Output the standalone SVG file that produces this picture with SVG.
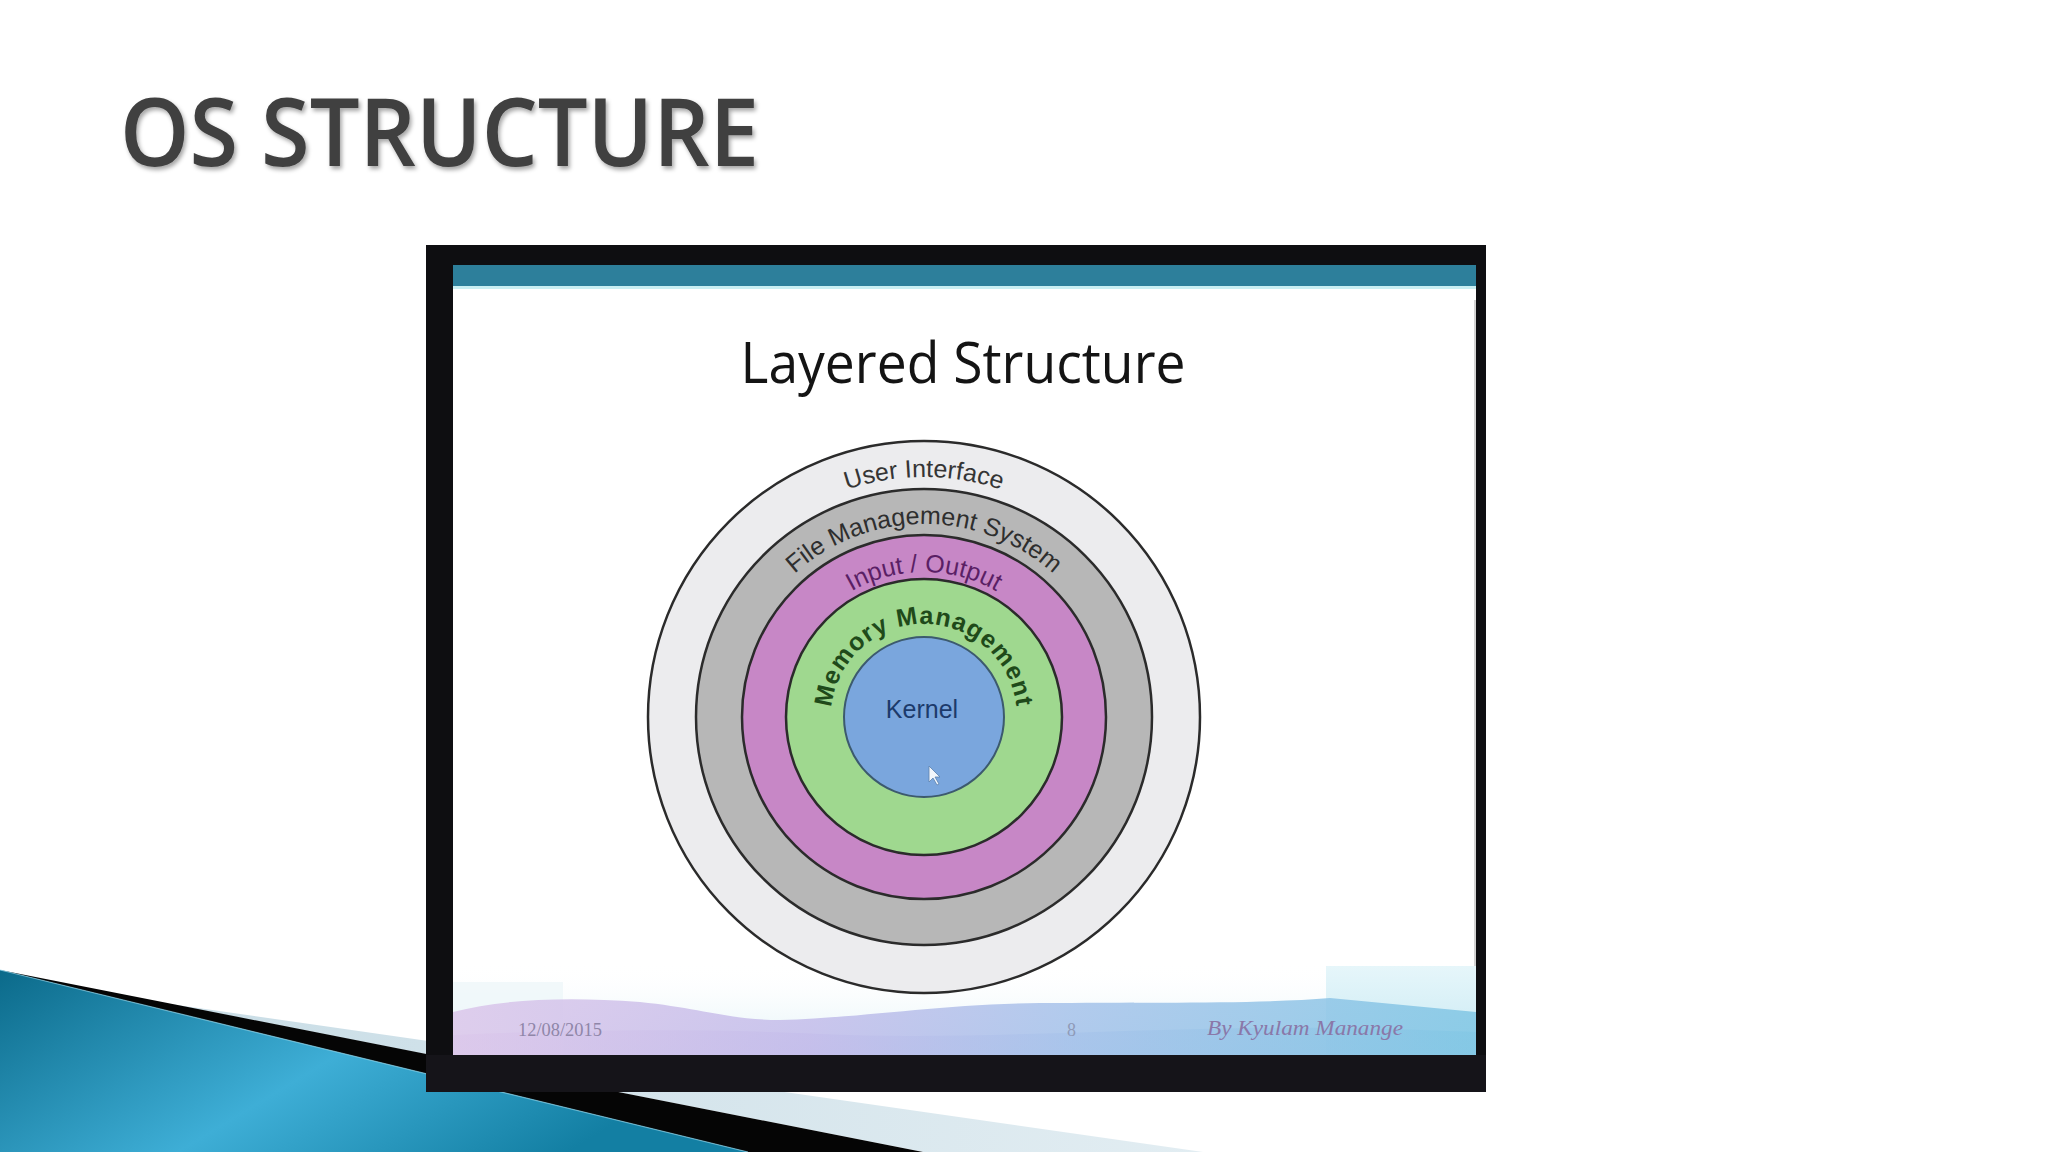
<svg xmlns="http://www.w3.org/2000/svg" width="2048" height="1152" viewBox="0 0 2048 1152">
  <defs>
    <style>
      .ring { stroke: #2b2b2b; stroke-width: 2.5; }
      .lbl { font-family: "Liberation Sans", Arial, sans-serif; font-size: 25px; }
      .calibri { font-family: "Open Sans", "Noto Sans", sans-serif; }
    </style>
    <filter id="shadow" x="-5%" y="-20%" width="110%" height="150%">
      <feDropShadow dx="2" dy="3" stdDeviation="2" flood-color="#000" flood-opacity="0.35"/>
    </filter>
    <linearGradient id="tealGrad" x1="0" y1="0" x2="1" y2="0.4">
      <stop offset="0" stop-color="#0b6a8a"/>
      <stop offset="0.55" stop-color="#3eaed6"/>
      <stop offset="1" stop-color="#137fa3"/>
    </linearGradient>
    <linearGradient id="lightGrad" x1="0" y1="0" x2="1" y2="0">
      <stop offset="0" stop-color="#c9dde6"/>
      <stop offset="1" stop-color="#e2edf2"/>
    </linearGradient>
    <linearGradient id="waveGrad" x1="0" y1="0" x2="1" y2="0">
      <stop offset="0" stop-color="#dbc6ea"/>
      <stop offset="0.35" stop-color="#c3bcea"/>
      <stop offset="0.6" stop-color="#a6c2ea"/>
      <stop offset="1" stop-color="#80c6e4"/>
    </linearGradient>
    <linearGradient id="waveTop" x1="0" y1="0" x2="0" y2="1">
      <stop offset="0" stop-color="#ffffff" stop-opacity="0"/>
      <stop offset="1" stop-color="#d9eef5" stop-opacity="0.9"/>
    </linearGradient>
    <linearGradient id="cyanPanel" x1="0" y1="0" x2="0" y2="1">
      <stop offset="0" stop-color="#e6f6fa"/>
      <stop offset="1" stop-color="#c8e9f3"/>
    </linearGradient>
    <path id="pUI" d="M684,717 A240,240 0 0 1 1164,717"/>
    <path id="pFMS" d="M731,717 A193,193 0 0 1 1117,717"/>
    <path id="pIO" d="M779,717 A145,145 0 0 1 1069,717"/>
    <path id="pMM" d="M831,717 A93,93 0 0 1 1017,717"/>
  </defs>

  <rect width="2048" height="1152" fill="#ffffff"/>

  <g id="title">
    <text x="120" y="166" class="calibri" font-size="94" font-weight="600" fill="#404040" textLength="639" lengthAdjust="spacingAndGlyphs" filter="url(#shadow)">OS STRUCTURE</text>
  </g>

  <g id="swoosh">
    <polygon points="0,970 748,1152 0,1152" fill="url(#tealGrad)"/>
    <polygon points="170,1004 1203,1152 923,1152" fill="url(#lightGrad)"/>
    <polygon points="-20,966 923,1152 748,1152 0,970" fill="#050505"/>
    <line x1="0" y1="970" x2="748" y2="1152" stroke="#7fd0ea" stroke-width="1.2" opacity="0.7"/>
  </g>

  <g id="slide-frame">
    <rect x="426" y="245" width="1060" height="847" fill="#0e0e11"/>
    <rect x="426" y="1055" width="1060" height="37" fill="#151419"/>
    <rect x="453" y="265" width="1023" height="790" fill="#ffffff"/>
    <rect x="453" y="265" width="1023" height="21" fill="#2d7f9b"/>
    <rect x="453" y="286" width="1023" height="3" fill="#c8eef2"/>
    <line x1="1475" y1="300" x2="1475" y2="1050" stroke="#888" stroke-width="1.5" opacity="0.5"/>
    <text x="963" y="383" class="calibri" font-size="56" fill="#141414" text-anchor="middle" textLength="445" lengthAdjust="spacingAndGlyphs">Layered Structure</text>
  </g>

  <g id="footer">
    <rect x="453" y="962" width="1023" height="93" fill="url(#waveTop)"/>
    <rect x="453" y="982" width="110" height="73" fill="#eef6f9" opacity="0.8"/>
    <polygon points="1326,966 1476,966 1476,1055 1326,1055" fill="url(#cyanPanel)"/>
    <path d="M453,1012 C500,1000 560,996 640,1002 C700,1008 730,1020 780,1020 C860,1018 940,1004 1040,1003 C1150,1002 1260,1004 1330,998 L1476,1012 L1476,1055 L453,1055 Z" fill="url(#waveGrad)" opacity="0.85"/>
    <path d="M453,1035 C560,1030 700,1028 820,1034 C950,1040 1100,1030 1250,1028 C1350,1027 1420,1030 1476,1032 L1476,1055 L453,1055 Z" fill="url(#waveGrad)" opacity="0.6"/>
    <text x="518" y="1036" font-family="Liberation Serif, serif" font-size="18" fill="#8f86a8" textLength="84" lengthAdjust="spacingAndGlyphs">12/08/2015</text>
    <text x="1067" y="1036" font-family="Liberation Serif, serif" font-size="18" fill="#8f9ab8">8</text>
    <text x="1207" y="1035" font-family="Liberation Serif, serif" font-style="italic" font-size="22" fill="#8a78a8" textLength="196" lengthAdjust="spacingAndGlyphs">By Kyulam Manange</text>
  </g>

  <g id="ring-user-interface">
    <circle cx="924" cy="717" r="276" fill="#ececee" class="ring"/>
    <text class="lbl" fill="#353535"><textPath href="#pUI" startOffset="50%" text-anchor="middle">User Interface</textPath></text>
  </g>
  <g id="ring-file-management">
    <circle cx="924" cy="717" r="228" fill="#b7b7b7" class="ring"/>
    <text class="lbl" font-size="26" fill="#2e2e2e"><textPath href="#pFMS" startOffset="50%" text-anchor="middle">File Management System</textPath></text>
  </g>
  <g id="ring-input-output">
    <circle cx="924" cy="717" r="182" fill="#c787c6" class="ring"/>
    <text class="lbl" fill="#5a1f65"><textPath href="#pIO" startOffset="50%" text-anchor="middle">Input / Output</textPath></text>
  </g>
  <g id="ring-memory">
    <circle cx="924" cy="717" r="138" fill="#9fd88f" class="ring"/>
    <text class="lbl" font-size="23" font-weight="bold" fill="#1f4a1a" letter-spacing="1"><textPath href="#pMM" startOffset="50%" text-anchor="middle">Memory Management</textPath></text>
  </g>
  <g id="kernel">
    <circle cx="924" cy="717" r="80" fill="#7aa6dd" stroke="#3c5a6e" stroke-width="2"/>
    <text x="922" y="718" class="lbl" fill="#1c3a6b" text-anchor="middle">Kernel</text>
    <path d="M929,766 L929,782 L933,778 L937,785 L939,784 L935,777 L940,777 Z" fill="#ffffff" stroke="#5b7fa8" stroke-width="0.8" opacity="0.9"/>
  </g>

  <g id="connectors"/>
</svg>
